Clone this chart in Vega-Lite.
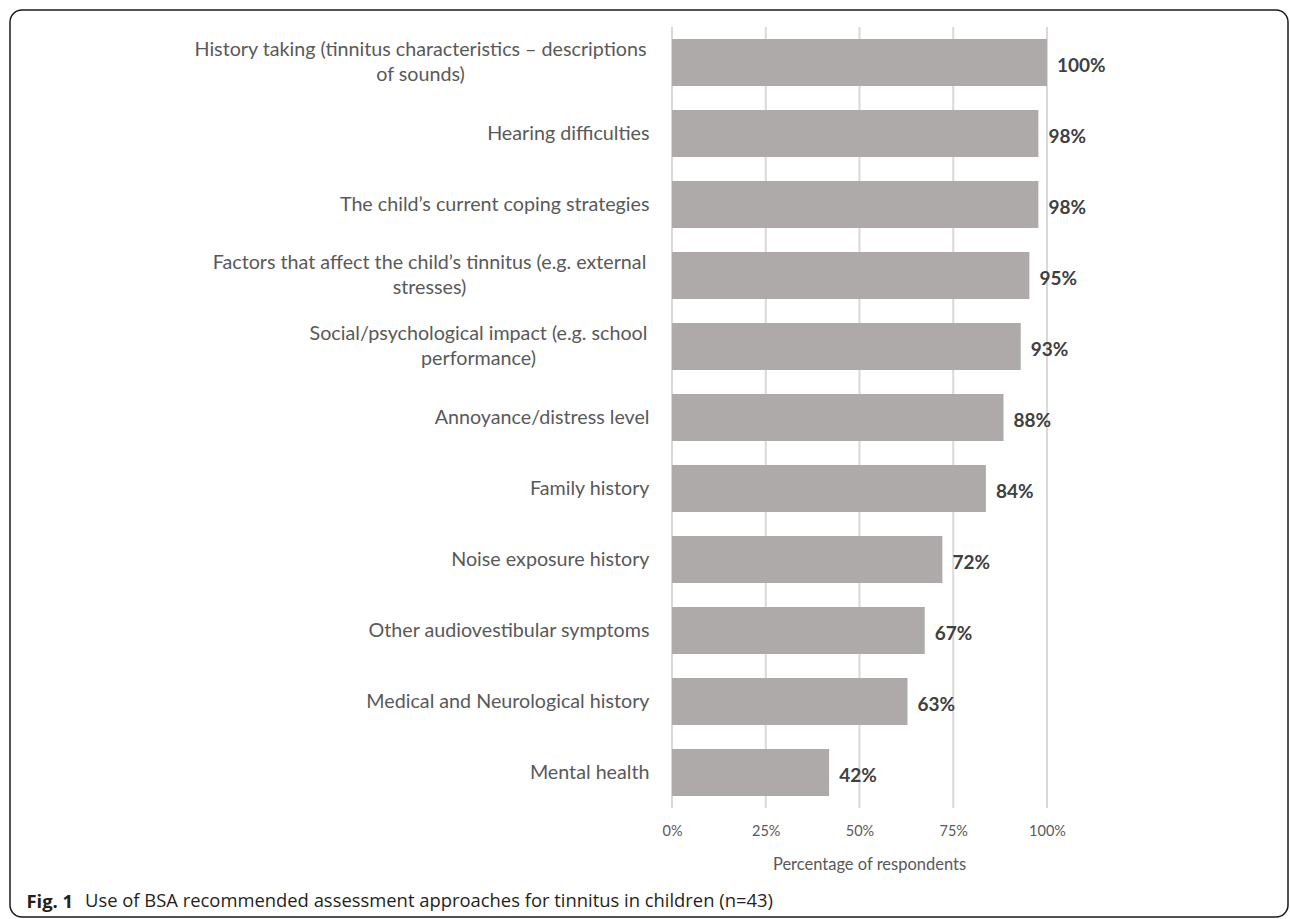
{
  "$schema": "https://vega.github.io/schema/vega-lite/v6.json",
  "width": 1278,
  "height": 907,
  "autosize": {"type": "none"},
  "padding": {"left": 10, "top": 10, "right": 2, "bottom": 2},
  "background": "white",
  "config": {
    "view": {"stroke": "#1a1a1a", "strokeWidth": 1.5, "cornerRadius": 12},
    "font": "Lato"
  },
  "title": {
    "text": "Use of BSA recommended assessment approaches for tinnitus in children (n=43)",
    "orient": "bottom",
    "anchor": "start",
    "frame": "group",
    "baseline": "alphabetic",
    "offset": -10,
    "dx": 75,
    "font": "Open Sans",
    "fontSize": 18.4,
    "fontWeight": "normal",
    "color": "#231f20"
  },
  "data": {
    "values": [
      {"item": "History taking (tinnitus characteristics – descriptions|of sounds)", "pct": 1.0},
      {"item": "Hearing difficulties", "pct": 0.977},
      {"item": "The child’s current coping strategies", "pct": 0.977},
      {"item": "Factors that affect the child’s tinnitus (e.g. external|stresses)", "pct": 0.953},
      {"item": "Social/psychological impact (e.g. school|performance)", "pct": 0.93},
      {"item": "Annoyance/distress level", "pct": 0.884},
      {"item": "Family history", "pct": 0.837},
      {"item": "Noise exposure history", "pct": 0.721},
      {"item": "Other audiovestibular symptoms", "pct": 0.674},
      {"item": "Medical and Neurological history", "pct": 0.628},
      {"item": "Mental health", "pct": 0.419}
    ]
  },
  "encoding": {
    "y": {
      "field": "item",
      "type": "nominal",
      "sort": null,
      "scale": {"range": [17, 798], "paddingInner": 0.34, "paddingOuter": 0.17},
      "axis": {
        "offset": -662,
        "domain": false,
        "ticks": false,
        "grid": false,
        "labelAlign": {
          "condition": {"test": "indexof(datum.value, '|') >= 0", "value": "center"},
          "value": "right"
        },
        "labelPadding": {
          "condition": [
            {"test": "indexof(datum.value, 'History') == 0", "value": 252},
            {"test": "indexof(datum.value, 'Factors') == 0", "value": 243},
            {"test": "indexof(datum.value, 'Social') == 0", "value": 194}
          ],
          "value": 23
        },
        "labelOffset": {
          "condition": {"test": "indexof(datum.value, '|') >= 0", "value": -12.5},
          "value": 0
        },
        "labelFont": "Lato",
        "labelFontSize": 19.7,
        "labelColor": "#595959",
        "labelLineHeight": 25,
        "labelLimit": 700,
        "labelExpr": "split(datum.label, '|')",
        "title": "Fig. 1",
        "titleAngle": 0,
        "titleAlign": "left",
        "titleBaseline": "alphabetic",
        "titleX": -646,
        "titleY": 897,
        "titleFont": "Open Sans",
        "titleFontSize": 18.4,
        "titleFontWeight": "bold",
        "titleColor": "#231f20"
      }
    },
    "x": {
      "field": "pct",
      "type": "quantitative",
      "scale": {"domain": [0, 1], "range": [662, 1037]},
      "axis": {
        "title": "Percentage of respondents",
        "format": ".0%",
        "values": [0, 0.25, 0.5, 0.75, 1],
        "offset": -109,
        "domain": false,
        "ticks": false,
        "grid": false,
        "labelFlush": false,
        "labelPadding": 16,
        "labelFont": "Lato",
        "labelFontSize": 14.5,
        "labelColor": "#595959",
        "titleFont": "Lato",
        "titleFontSize": 16.5,
        "titleFontWeight": "normal",
        "titleColor": "#595959",
        "titlePadding": 19,
        "titleX": 859
      }
    }
  },
  "layer": [
    {"mark": {"type": "tick", "orient": "vertical", "size": 71, "thickness": 2, "color": "#d9d9d9", "opacity": 1}, "encoding": {"x": {"datum": 0, "type": "quantitative"}}},
    {"mark": {"type": "tick", "orient": "vertical", "size": 71, "thickness": 2, "color": "#d9d9d9", "opacity": 1}, "encoding": {"x": {"datum": 0.25, "type": "quantitative"}}},
    {"mark": {"type": "tick", "orient": "vertical", "size": 71, "thickness": 2, "color": "#d9d9d9", "opacity": 1}, "encoding": {"x": {"datum": 0.5, "type": "quantitative"}}},
    {"mark": {"type": "tick", "orient": "vertical", "size": 71, "thickness": 2, "color": "#d9d9d9", "opacity": 1}, "encoding": {"x": {"datum": 0.75, "type": "quantitative"}}},
    {"mark": {"type": "tick", "orient": "vertical", "size": 71, "thickness": 2, "color": "#d9d9d9", "opacity": 1}, "encoding": {"x": {"datum": 1, "type": "quantitative"}}},
    {"mark": {"type": "bar", "color": "#aeaaaa"}},
    {
      "mark": {"type": "text", "align": "left", "baseline": "middle", "dx": 10, "dy": 3, "font": "Lato", "fontSize": 19, "fontWeight": "bold", "color": "#404040"},
      "encoding": {"text": {"field": "pct", "type": "quantitative", "format": ".0%"}}
    }
  ]
}
